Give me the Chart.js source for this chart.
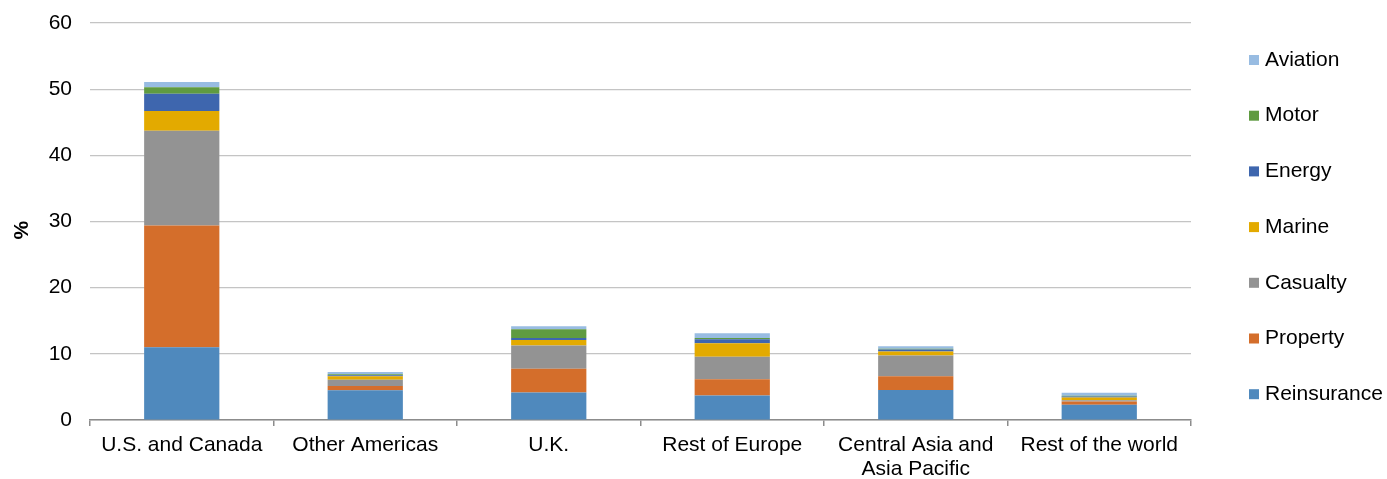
<!DOCTYPE html>
<html>
<head>
<meta charset="utf-8">
<script src="https://cdn.jsdelivr.net/npm/chart.js@4"></script>
<style>
  html, body { margin: 0; padding: 0; background: #fff; }
  #wrap { width: 1387px; height: 479px; }
</style>
</head>
<body>
<div id="wrap"><canvas id="chart" width="1387" height="479"></canvas></div>
<script>
// regions along the x axis
const regions = ['U.S. and Canada', 'Other Americas', 'U.K.', 'Rest of Europe', ['Central Asia and', 'Asia Pacific'], 'Rest of the world'];

// share of each line of business, %
const reinsurance = [11.0, 4.5, 4.15, 3.7, 4.55, 2.3];
const property    = [18.4, 0.65, 3.6, 2.45, 2.05, 0.5];
const casualty    = [14.3, 0.95, 3.5, 3.4, 3.15, 0.2];
const marine      = [3.0, 0.5, 0.85, 2.05, 0.6, 0.4];
const energy      = [2.6, 0.15, 0.3, 0.6, 0.3, 0.15];
const motor       = [1.0, 0.15, 1.3, 0.2, 0.1, 0.1];
const aviation    = [0.8, 0.35, 0.45, 0.7, 0.4, 0.45];

const yTicks = [0, 10, 20, 30, 40, 50, 60];

const FONT = 'Liberation Sans, Arial, sans-serif';

function ds(label, data, color) {
    return { label, data, backgroundColor: color, borderWidth: 0,
             barPercentage: 0.41, categoryPercentage: 1.0 };
}

// legend drawn on the right, top item = last series
const sideLegend = {
    id: 'sideLegend',
    afterDraw(chart) {
        const ctx = chart.ctx;
        const sets = chart.data.datasets.slice().reverse();
        ctx.save();
        ctx.font = '21px ' + FONT;
        ctx.textBaseline = 'middle';
        sets.forEach((d, i) => {
            const y = 60 + i * 55.7;
            ctx.fillStyle = d.backgroundColor;
            ctx.fillRect(1249, y - 5, 10, 10);
            ctx.fillStyle = '#000';
            ctx.fillText(d.label, 1265, y);
        });
        ctx.restore();
    }
};

Chart.defaults.font.family = FONT;
Chart.defaults.color = '#000';

new Chart(document.getElementById('chart'), {
    type: 'bar',
    data: {
        labels: regions,
        datasets: [
            ds('Reinsurance', reinsurance, '#4f89bd'),
            ds('Property', property, '#d46e2b'),
            ds('Casualty', casualty, '#939393'),
            ds('Marine', marine, '#e3aa00'),
            ds('Energy', energy, '#3e66ae'),
            ds('Motor', motor, '#5f9b40'),
            ds('Aviation', aviation, '#98bce2')
        ]
    },
    options: {
        responsive: false,
        animation: false,
        layout: { padding: { top: 23, right: 196, bottom: 0, left: 0 } },
        plugins: { legend: { display: false }, tooltip: { enabled: false } },
        scales: {
            x: {
                stacked: true,
                afterFit: s => { s.height = 59; s.paddingLeft = 0; s.paddingRight = 0; },
                border: { color: '#8c8c8c', width: 1.5 },
                grid: { display: true, offset: true, drawOnChartArea: false, drawTicks: true, tickLength: 6, color: '#8c8c8c', lineWidth: 1.5 },
                ticks: { font: { size: 21, lineHeight: 1.15 }, padding: 7, maxRotation: 0, autoSkip: false }
            },
            y: {
                stacked: true,
                min: 0, max: 60,
                afterFit: s => { s.width = 90; s.paddingTop = 0; s.paddingBottom = 0; },
                afterBuildTicks: s => { s.ticks = yTicks.map(v => ({ value: v })); },
                border: { display: false },
                grid: { color: '#c4c4c4', lineWidth: 1.2, drawTicks: false },
                ticks: { font: { size: 21 }, padding: 18 },
                title: { display: true, text: '%   ', font: { size: 21, weight: 'bold' }, padding: { top: 10, bottom: 0 } }
            }
        }
    },
    plugins: [sideLegend]
});
</script>
</body>
</html>
